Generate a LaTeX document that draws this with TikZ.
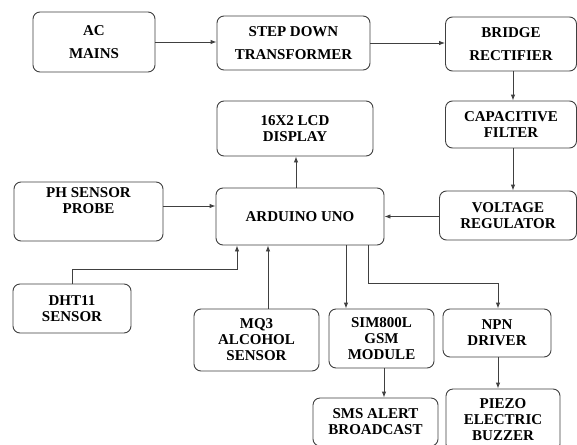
\documentclass[tikz,border=0pt]{standalone}
\usepackage{fontspec}
\setmainfont{Liberation Serif}
\usetikzlibrary{arrows.meta}
\definecolor{linegray}{RGB}{64,64,64}

\begin{document}
\begin{tikzpicture}[
        x=1pt, y=-1pt,
        box/.style={rectangle, draw=linegray, line width=0.9pt, rounded corners=7pt, align=center,
            font=\fontsize{15}{16}\selectfont\bfseries},
        widebox/.style={box, font=\fontsize{15}{23}\selectfont\bfseries},
        arrow/.style={-{Latex[length=6pt, width=4.5pt]}, line width=0.9pt, linegray}
    ]
        \clip (0,0) rectangle (577,444);
        \fill[white] (0,0) rectangle (577,444);

        % Power supply chain
        \node[widebox, minimum width=122pt, minimum height=60pt] (ac) at (94,42) {AC\\MAINS};
        \node[widebox, minimum width=153pt, minimum height=54pt] (step) at (293.5,43) {STEP DOWN\\TRANSFORMER};
        \node[widebox, minimum width=131pt, minimum height=54pt] (bridge) at (511,44) {BRIDGE\\RECTIFIER};
        \node[box, minimum width=131pt, minimum height=47pt] (cap) at (511,124.5) {CAPACITIVE\\FILTER};
        \node[box, minimum width=137pt, minimum height=49pt] (vr) at (508,215.5) {VOLTAGE\\REGULATOR};

        % Controller and display
        \node[box, minimum width=168pt, minimum height=57pt] (ard) at (300,216.5) {ARDUINO UNO};
        \node[box, minimum width=156pt, minimum height=55pt] (lcd) at (295,128.5) {16X2 LCD\\DISPLAY};

        % Sensors
        \node[box, minimum width=149pt, minimum height=59pt] (ph) at (88.5,211.5) {PH SENSOR\\PROBE\\[6pt]};
        \node[box, minimum width=118pt, minimum height=49pt] (dht) at (72,308.5) {DHT11\\SENSOR};
        \node[box, minimum width=125pt, minimum height=62pt] (mq) at (256.5,340) {MQ3\\ALCOHOL\\SENSOR};

        % Outputs
        \node[box, minimum width=105pt, minimum height=59pt] (gsm) at (381.5,338.5) {SIM800L\\GSM\\MODULE};
        \node[box, minimum width=108pt, minimum height=48pt] (npn) at (497,333) {NPN\\DRIVER};
        \node[box, minimum width=125pt, minimum height=48pt] (sms) at (375.5,422) {SMS ALERT\\BROADCAST};
        \node[box, minimum width=114pt, minimum height=62pt] (buzz) at (503,420) {PIEZO\\ELECTRIC\\BUZZER};

        % Arrows
        \draw[arrow] (ac.east) -- (ac.east -| step.west);
        \draw[arrow] (step.east) -- (step.east -| bridge.west);
        \draw[arrow] ([xshift=2pt]bridge.south) -- ([xshift=2pt]bridge.south |- cap.north);
        \draw[arrow] ([xshift=2pt]cap.south) -- ([xshift=2pt]cap.south |- vr.north);
        \draw[arrow] (vr.west |- ard.east) -- (ard.east);
        \draw[arrow] ([yshift=5.5pt]ph.east) -- ([yshift=5.5pt]ph.east -| ard.west);
        \draw[arrow] ([xshift=-4pt]ard.north) -- ([xshift=-4pt]ard.north |- lcd.south);
        \draw[arrow] (dht.north) -- ++(0,-14) -| ([xshift=-63pt]ard.south);
        \draw[arrow] ([xshift=-32pt]ard.south |- mq.north) -- ([xshift=-32pt]ard.south);
        \draw[arrow] ([xshift=46pt]ard.south) -- ([xshift=46pt]ard.south |- gsm.north);
        \draw[arrow] ([xshift=68pt]ard.south) -- ++(0,38) -| ([xshift=1pt]npn.north);
        \draw[arrow] ([xshift=2.5pt]gsm.south) -- ([xshift=2.5pt]gsm.south |- sms.north);
        \draw[arrow] ([xshift=1pt]npn.south) -- ([xshift=1pt]npn.south |- buzz.north);
    \end{tikzpicture}
\end{document}
